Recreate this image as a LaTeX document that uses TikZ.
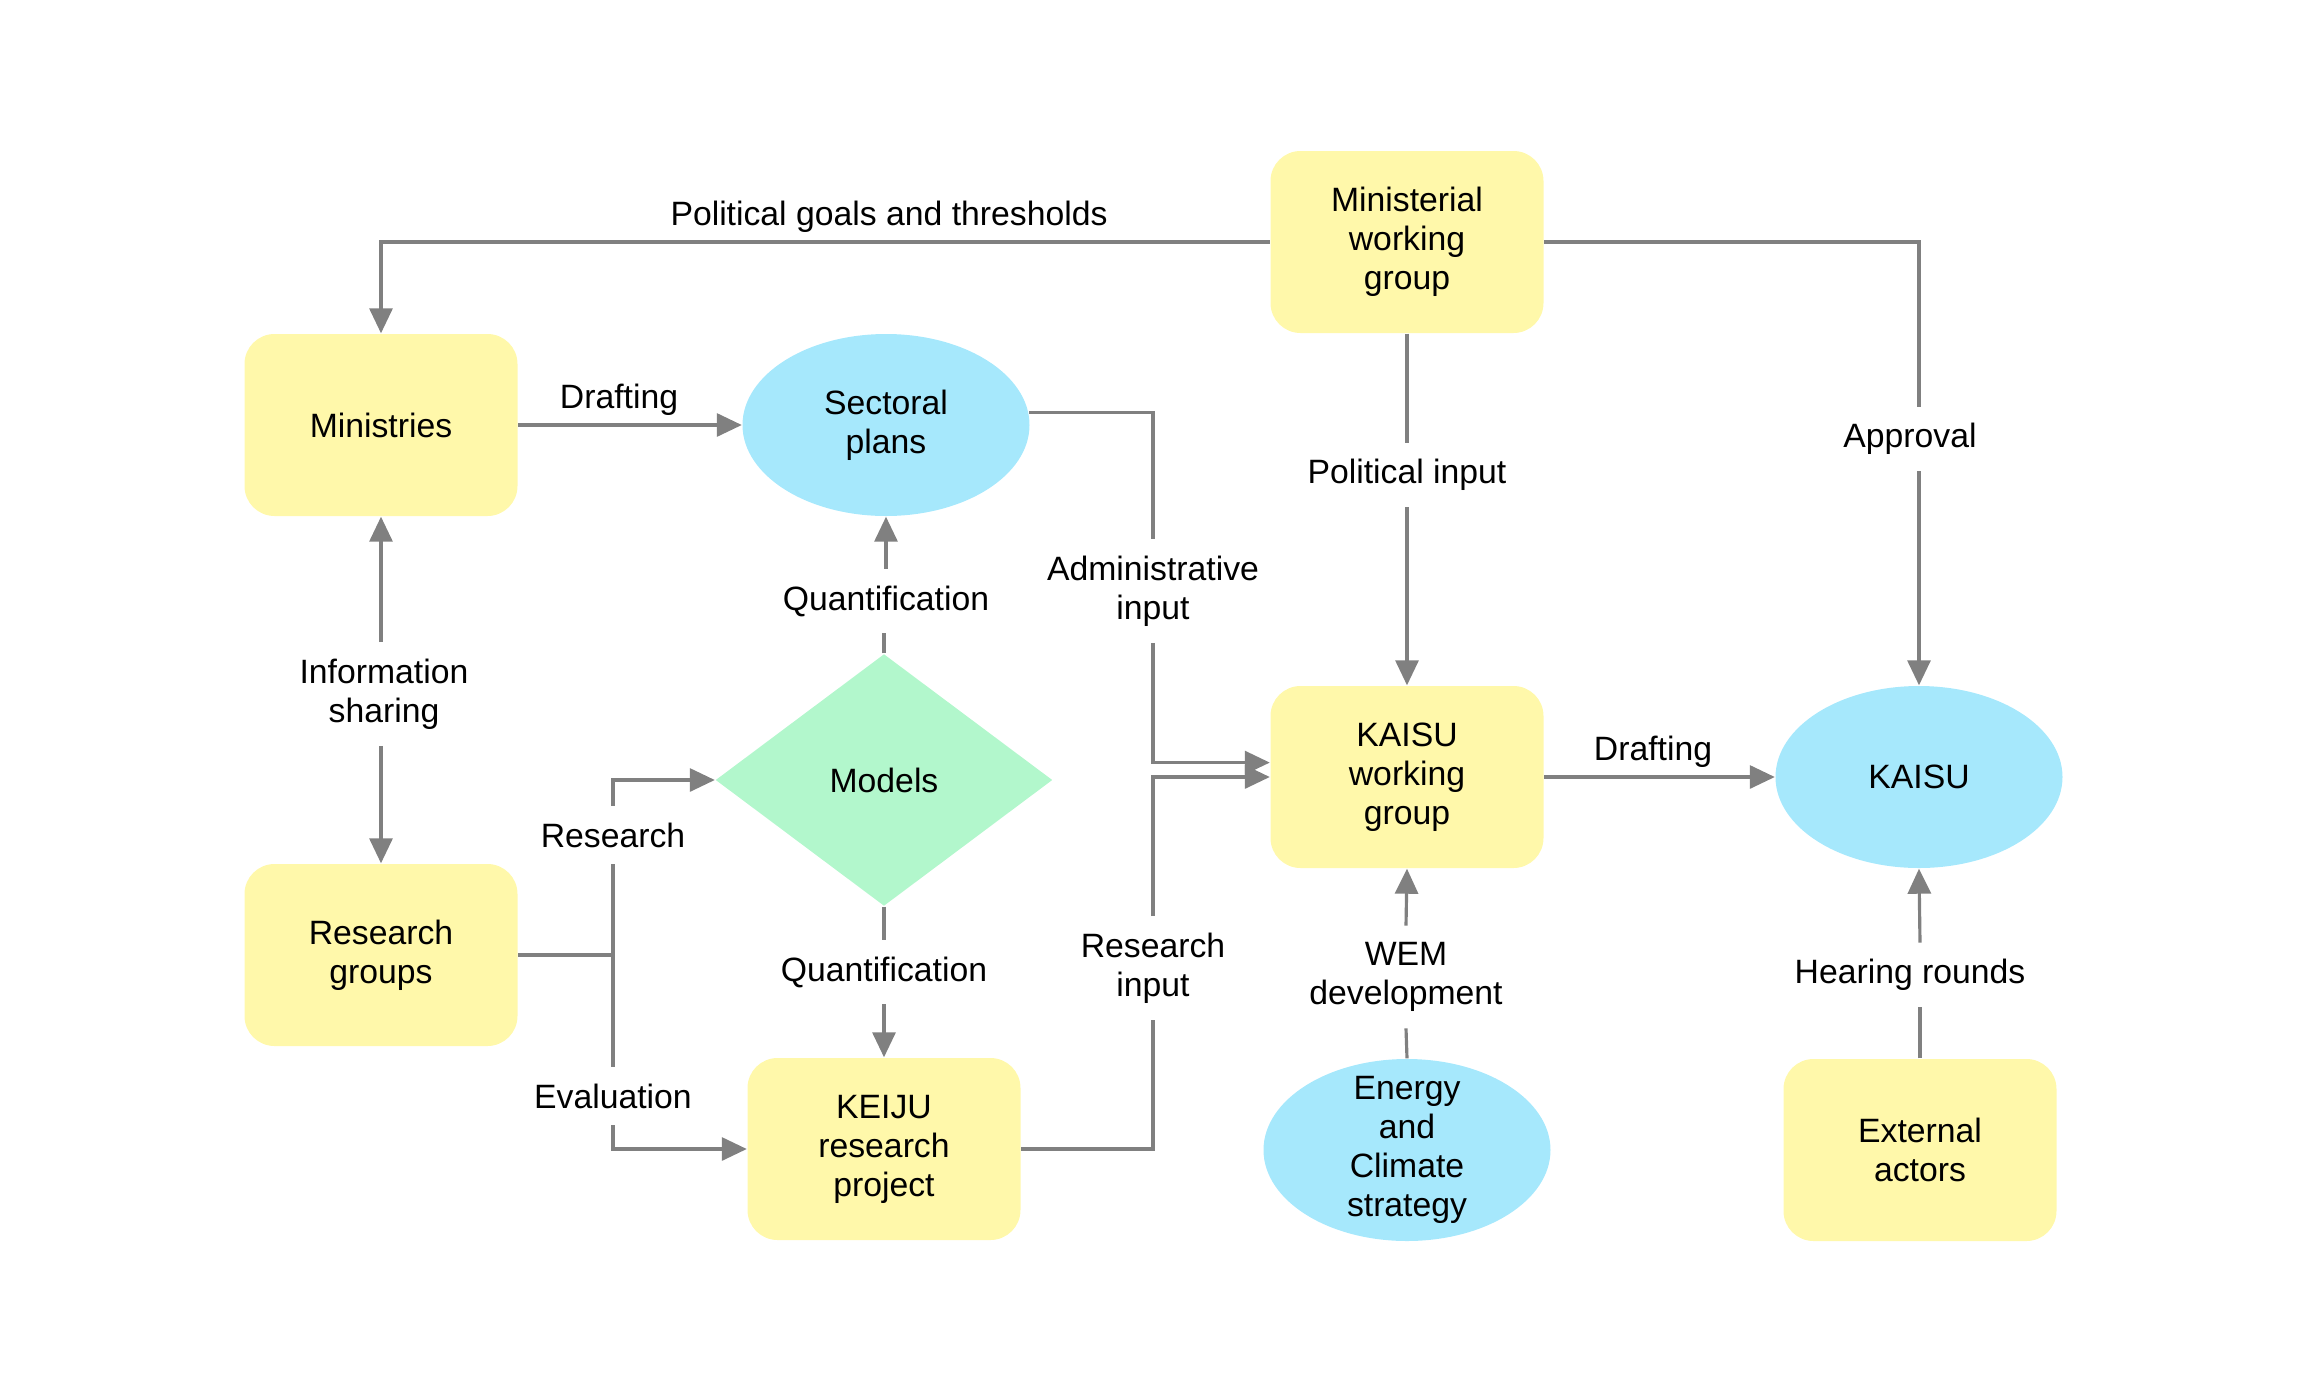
\documentclass[tikz,border=0pt]{standalone}
\usepackage{fontspec}
\setmainfont{Liberation Sans}
\usetikzlibrary{arrows.meta, positioning, shapes.geometric}
\definecolor{boxyellow}{RGB}{255,248,170}
\definecolor{planblue}{RGB}{166,232,252}
\definecolor{modelgreen}{RGB}{178,247,204}
\definecolor{linegray}{RGB}{128,128,128}
\newcommand{\diafont}{\fontsize{9.6}{11.1}\selectfont}

\begin{document}
\begin{tikzpicture}[
  every node/.style={font=\diafont},
  box/.style={rectangle, rounded corners=0.3cm, fill=boxyellow, minimum width=2.73cm, minimum height=1.82cm, align=center, inner sep=0},
  blob/.style={ellipse, fill=planblue, minimum width=2.87cm, minimum height=1.82cm, align=center, inner sep=0},
  lbl/.style={inner sep=0.16cm, align=center},
  conn/.style={draw=linegray, color=linegray, line width=0.9pt},
  arr/.style={conn, -{Triangle[length=0.25cm, width=0.23cm]}}
]
  \useasboundingbox (0,0) rectangle (23,-13.91);

  % actors and documents
  \node[box] (mwg) at (14.07,-2.42) {Ministerial\\working\\group};
  \node[box] (min) at (3.81,-4.25) {Ministries};
  \node[blob] (sp) at (8.86,-4.25) {Sectoral\\plans};
  \node[diamond, fill=modelgreen, minimum width=3.37cm, minimum height=2.52cm, inner sep=0] (mod) at (8.84,-7.80) {Models};
  \node[box] (kwg) at (14.07,-7.77) {KAISU\\working\\group};
  \node[blob] (kai) at (19.19,-7.77) {KAISU};
  \node[box] (rg) at (3.81,-9.55) {Research\\groups};
  \node[box] (kei) at (8.84,-11.49) {KEIJU\\research\\project};
  \node[blob] (ene) at (14.07,-11.50) {};
  \node[align=center] (enetxt) at (ene) {Energy\\and\\Climate\\strategy};
  \node[box] (ext) at (19.20,-11.50) {External\\actors};

  % labels
  \node (pgt) at (8.89,-2.17) {Political goals and thresholds};
  \node (dr1) at (6.19,-4.00) {Drafting};
  \node[lbl] (infs) at (3.84,-6.94) {Information\\sharing};
  \node[lbl] (quan1) at (8.86,-6.01) {Quantification};
  \node[lbl] (quan2) at (8.84,-9.72) {Quantification};
  \node[lbl] (res) at (6.13,-8.35) {Research};
  \node[lbl] (eva) at (6.13,-10.96) {Evaluation};
  \node[lbl] (adm) at (11.53,-5.91) {Administrative\\input};
  \node[lbl] (rin) at (11.53,-9.68) {Research\\input};
  \node[lbl] (polin) at (14.07,-4.75) {Political input};
  \node[lbl] (appr) at (19.10,-4.39) {Approval};
  \node (dr2) at (16.53,-7.52) {Drafting};
  \node[lbl] (wem) at (14.06,-9.77) {WEM\\development};
  \node[lbl] (hear) at (19.10,-9.75) {Hearing rounds};

  % connectors
  \draw[arr] (mwg.west) -| (min.north);
  \draw[conn] (mwg.east) -| (appr.north -| kai.north);
  \draw[arr] (appr.south -| kai.north) -- (kai.north);
  \draw[conn] (mwg.south) -- (polin.north);
  \draw[arr] (polin.south) -- (kwg.north);
  \draw[arr] (min.east) -- (sp.west);
  \draw[arr] (infs.north -| min.south) -- (min.south);
  \draw[arr] (infs.south -| rg.north) -- (rg.north);
  \draw[conn] (mod.north) -- (quan1.south -| mod.north);
  \draw[arr] (quan1.north -| sp.south) -- (sp.south);
  \draw[conn] (mod.south) -- (quan2.north);
  \draw[arr] (quan2.south) -- (kei.north);
  \draw[conn] (rg.east) -| (res.south);
  \draw[arr] (res.north) |- (mod.west);
  \draw[conn] (rg.east) -| (eva.north);
  \draw[arr] (eva.south) |- (kei.west);
  \draw[conn] (sp.5) -| (adm.north);
  \draw[arr] (adm.south) |- (kwg.174);
  \draw[conn] (kei.east) -| (rin.south);
  \draw[arr] (rin.north) |- (kwg.west);
  \draw[arr] (kwg.east) -- (kai.west);
  \draw[conn] (ene.north) -- (wem.south);
  \draw[arr] (wem.north) -- (kwg.south);
  \draw[conn] (ext.north) -- (hear.south -| ext.north);
  \draw[arr] (hear.north -| ext.north) -- (kai.south);
\end{tikzpicture}
\end{document}
